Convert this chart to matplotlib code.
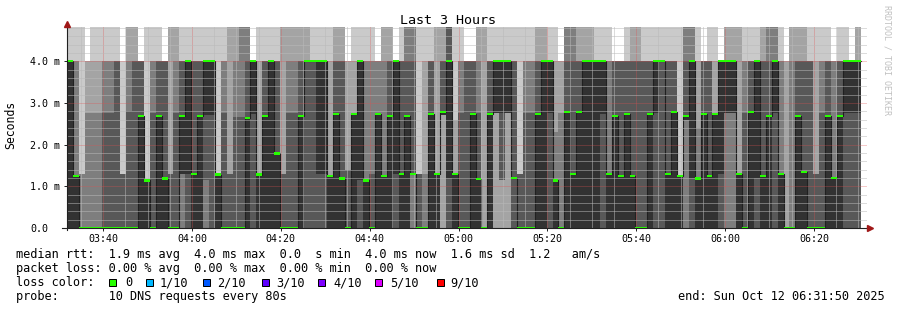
import datetime as dt
import numpy as np
import matplotlib
matplotlib.use("Agg")
import matplotlib.pyplot as plt
import matplotlib.dates as mdates
import matplotlib.transforms as mtransforms
from matplotlib.patches import Rectangle
from matplotlib.ticker import MultipleLocator

W, H = 897, 310
MONO = "DejaVu Sans Mono"

start = dt.datetime(2025, 10, 12, 3, 31, 50)
end = dt.datetime(2025, 10, 12, 6, 31, 50)
step_seconds = 80

# sorted rtt of the 10 DNS requests per 80s step, in ms (6.0 = above the graph)
pings_03h = [
    [0, 0, 0, 0, 0, 4, 4, 4, 4, 6],
    [0, 0, 0, 0, 0, 1.24, 1.24, 4, 4, 6],
    [0, 0, 0, 0, 0, 0, 0, 1.3, 1.3, 6],
    [0, 0, 0, 0, 0, 0, 0, 2.75, 4, 4],
    [0, 0, 0, 0, 0, 0, 0, 2.75, 4, 6],
    [0, 0, 0, 0, 0, 0, 0, 2.75, 4, 6],
    [0, 0, 0, 0, 0, 0, 2.75, 4, 4, 6],
    [0, 0, 0, 0, 0, 0, 2.75, 4, 4, 6],
    [0, 0, 0, 0, 0, 0, 4, 4, 4, 6],
    [0, 0, 0, 0, 0, 0, 1.3, 1.3, 1.3, 4],
    [0, 0, 0, 0, 0, 0, 2.8, 4, 6, 6],
    [0, 0, 0, 0, 0, 0, 4, 4, 6, 6],
    [0, 0, 0, 0, 0, 2.69, 4, 4, 4, 4],
    [0, 0, 0, 0, 0, 1.14, 1.14, 1.14, 1.14, 6],
    [0, 0, 0, 0, 0, 0, 2.75, 4, 4, 6],
    [0, 0, 0, 0, 0, 2.69, 4, 4, 4, 6],
    [0, 0, 0, 0, 0, 1.19, 4, 4, 4, 4],
    [0, 0, 0, 0, 0, 0, 1.3, 1.3, 6, 6],
    [0, 0, 0, 0, 0, 0, 2.75, 4, 6, 6],
    [0, 0, 0, 1.3, 1.3, 2.69, 4, 4, 4, 6],
    [0, 0, 0, 0, 1.29, 4, 4, 4, 4, 6],
    [0, 0, 0, 0, 0, 1.29, 4, 4, 4, 6],
]
pings_04h = [
    [0, 0, 0, 0, 0, 2.69, 4, 4, 4, 6],
    [0, 0, 0, 1.14, 2.7, 4, 4, 4, 4, 6],
    [0, 0, 0, 0, 2.7, 4, 4, 4, 4, 6],
    [0, 0, 0, 0, 0, 1.28, 1.28, 1.28, 1.28, 6],
    [0, 0, 0, 0, 0, 0, 2.75, 4, 4, 6],
    [0, 0, 0, 0, 0, 0, 1.3, 1.3, 6, 6],
    [0, 0, 0, 0, 0, 0, 2.65, 4, 6, 6],
    [0, 0, 0, 0, 0, 0, 2.65, 6, 6, 6],
    [0, 0, 0, 0, 0, 2.64, 4, 6, 6, 6],
    [0, 0, 0, 0, 2.74, 4, 4, 4, 4, 4],
    [0, 0, 0, 0, 0, 1.28, 1.28, 1.28, 4, 6],
    [0, 0, 0, 0, 0, 2.69, 4, 4, 4, 6],
    [0, 0, 0, 0, 0, 4, 4, 4, 4, 6],
    [0, 0, 0, 0, 0, 1.79, 4, 4, 4, 6],
    [0, 0, 0, 0, 0, 0, 1.3, 1.3, 6, 6],
    [0, 0, 0, 0, 0, 0, 2.75, 4, 6, 6],
    [0, 0, 0, 0, 0, 0, 2.75, 4, 6, 6],
    [0, 0, 0, 0, 0, 2.69, 4, 4, 6, 6],
    [0, 0, 0, 0, 4, 4, 4, 4, 6, 6],
    [0, 0, 0, 0, 4, 4, 4, 4, 4, 6],
    [0, 0, 0, 0, 1.3, 4, 4, 4, 4, 6],
    [0, 0, 0, 0, 1.3, 4, 4, 4, 4, 6],
    [0, 0, 0, 0, 0, 1.24, 1.24, 1.24, 4, 6],
    [0, 0, 0, 0, 0, 2.74, 4, 4, 6, 6],
    [0, 0, 0, 0, 0, 1.19, 4, 4, 6, 6],
    [0, 0, 0, 0, 0, 0, 1.4, 1.4, 4, 4],
    [0, 0, 0, 0, 0, 2.74, 2.74, 2.74, 4, 6],
    [0, 0, 0, 0, 1.14, 4, 4, 4, 4, 6],
    [0, 0, 0, 0, 0, 1.14, 1.14, 4, 4, 6],
    [0, 0, 0, 0, 0, 0, 1.3, 4, 4, 6],
    [0, 0, 0, 0, 0, 2.74, 2.74, 4, 4, 4],
    [0, 0, 0, 0, 0, 1.24, 1.24, 4, 6, 6],
    [0, 0, 0, 0, 0, 2.69, 4, 4, 6, 6],
    [0, 0, 0, 0, 1.3, 4, 4, 4, 4, 4],
    [0, 0, 0, 0, 0, 1.29, 4, 4, 4, 6],
    [0, 0, 0, 0, 0, 2.69, 4, 6, 6, 6],
    [0, 0, 0, 1.29, 1.29, 1.29, 4, 6, 6, 6],
    [0, 0, 0, 0, 0, 0, 1.3, 1.3, 1.3, 6],
    [0, 0, 0, 0, 0, 0, 0, 1.3, 4, 6],
    [0, 0, 0, 0, 0, 2.74, 4, 4, 4, 6],
    [0, 0, 0, 0, 0, 1.29, 1.29, 1.29, 6, 6],
    [0, 0, 2.7, 2.7, 2.7, 2.78, 4, 4, 6, 6],
    [0, 0, 0, 0, 1.2, 4, 6, 6, 6, 6],
    [0, 0, 0, 0, 0, 1.29, 1.29, 1.29, 2.6, 6],
    [0, 0, 0, 0, 0, 0, 2.75, 4, 4, 6],
]
pings_05h = [
    [0, 0, 0, 0, 0, 0, 4, 4, 4, 4],
    [0, 0, 0, 0, 0, 2.74, 4, 4, 4, 4],
    [0, 0, 0, 0, 0, 1.18, 2.75, 4, 6, 6],
    [0, 0, 0, 0, 0, 0, 0, 0, 6, 6],
    [0, 0, 0, 0, 0, 2.74, 4, 4, 4, 6],
    [0, 0, 2.75, 2.75, 2.75, 4, 4, 4, 4, 6],
    [0, 0, 1.14, 1.14, 2.75, 4, 4, 4, 4, 6],
    [0, 0, 2.75, 2.75, 2.75, 4, 4, 4, 4, 6],
    [0, 0, 0, 0, 1.2, 1.2, 4, 4, 4, 6],
    [0, 0, 0, 0, 0, 0, 1.3, 1.3, 1.3, 6],
    [0, 0, 0, 0, 0, 0, 2.75, 4, 4, 6],
    [0, 0, 0, 0, 0, 0, 2.75, 4, 4, 6],
    [0, 0, 0, 0, 0, 2.74, 4, 4, 6, 6],
    [0, 0, 0, 0, 0, 4, 4, 4, 6, 6],
    [0, 0, 0, 0, 2.75, 4, 4, 4, 4, 6],
    [0, 0, 0, 0, 0, 1.14, 1.14, 2.3, 4, 6],
    [0, 0, 0, 0, 0, 0, 0, 2.75, 4, 4],
    [0, 0, 0, 0, 0, 2.78, 4, 6, 6, 6],
    [0, 0, 0, 0, 0, 1.29, 4, 6, 6, 6],
    [0, 0, 0, 0, 0, 2.78, 4, 4, 6, 6],
    [0, 0, 0, 0, 0, 4, 4, 4, 6, 6],
    [0, 0, 0, 0, 0, 4, 4, 4, 6, 6],
    [0, 0, 0, 0, 0, 4, 4, 4, 4, 6],
    [0, 0, 0, 0, 2.74, 4, 4, 4, 4, 6],
    [0, 0, 0, 0, 0, 1.29, 1.29, 4, 4, 6],
    [0, 0, 0, 0, 0, 2.69, 4, 4, 4, 4],
    [0, 0, 0, 0, 0, 1.24, 4, 4, 4, 4],
    [0, 0, 0, 0, 0, 2.74, 4, 4, 4, 6],
    [0, 0, 0, 0, 0, 1.24, 4, 4, 6, 6],
    [0, 0, 0, 0, 0, 0, 4, 4, 6, 6],
    [0, 0, 0, 0, 0, 0, 4, 4, 4, 6],
    [0, 0, 0, 0, 0, 2.74, 4, 4, 4, 6],
    [0, 0, 0, 0, 2.75, 4, 4, 4, 4, 6],
    [0, 0, 0, 0, 4, 4, 4, 4, 4, 6],
    [0, 0, 0, 0, 0, 1.29, 4, 4, 4, 6],
    [0, 0, 0, 0, 0, 2.78, 4, 4, 4, 6],
    [0, 0, 0, 0, 0, 1.24, 1.24, 1.24, 1.24, 6],
    [0, 0, 0, 2.6, 2.6, 2.69, 4, 6, 6, 6],
    [0, 0, 0, 0, 1.19, 4, 4, 6, 6, 6],
    [0, 0, 0, 0, 0, 1.19, 1.19, 2.4, 4, 6],
    [0, 0, 0, 0, 0, 2.74, 4, 4, 4, 4],
    [0, 0, 0, 0, 0, 1.24, 4, 4, 4, 6],
    [0, 0, 0, 0, 0, 2.74, 2.74, 2.74, 4, 6],
    [0, 0, 0, 0, 1.29, 4, 4, 4, 4, 4],
    [0, 0, 0, 2.75, 2.75, 4, 4, 4, 6, 6],
]
pings_06h = [
    [0, 0, 0, 2.75, 2.75, 4, 4, 4, 6, 6],
    [0, 0, 0, 0, 0, 1.29, 1.29, 1.29, 6, 6],
    [0, 0, 0, 0, 0, 0, 2.75, 4, 4, 6],
    [0, 0, 0, 0, 0, 2.78, 4, 4, 4, 6],
    [0, 0, 0, 0, 1.2, 4, 4, 4, 4, 6],
    [0, 0, 0, 0, 0, 1.24, 4, 4, 6, 6],
    [0, 0, 0, 0, 0, 2.69, 4, 6, 6, 6],
    [0, 0, 0, 0, 2.75, 4, 4, 6, 6, 6],
    [0, 0, 0, 0, 0, 1.29, 1.29, 4, 4, 6],
    [0, 0, 0, 0, 0, 0, 0, 0, 4, 4],
    [0, 0, 0, 0, 0, 0, 0, 4, 6, 6],
    [0, 0, 0, 0, 0, 2.69, 4, 4, 6, 6],
    [0, 0, 0, 0, 0, 1.35, 4, 4, 6, 6],
    [0, 0, 0, 0, 0, 0, 4, 4, 4, 6],
    [0, 0, 0, 0, 0, 0, 1.3, 1.3, 4, 6],
    [0, 0, 0, 0, 0, 0, 2.75, 4, 4, 6],
    [0, 0, 0, 0, 0, 2.69, 4, 4, 4, 6],
    [0, 0, 0, 0, 0, 1.2, 1.2, 4, 4, 4],
    [0, 0, 0, 0, 0, 2.69, 4, 4, 4, 6],
    [0, 0, 0, 0, 2.75, 4, 4, 4, 4, 6],
    [0, 0, 0, 0, 2.75, 4, 4, 4, 4, 4],
    [0, 0, 0, 0, 2.75, 4, 4, 4, 6, 6],
]

# median rtt per step, ms
median_ms = [
    4.0, 1.24, 0, 0, 0, 0, 0, 0, 0, 0,
    0, 0, 2.69, 1.14, 0, 2.69, 1.19, 0, 0, 2.69,
    4.0, 1.29, 2.69, 4.0, 4.0, 1.28, 0, 0, 0, 0,
    2.64, 4.0, 1.28, 2.69, 4.0, 1.79, 0, 0, 0, 2.69,
    4.0, 4.0, 4.0, 4.0, 1.24, 2.74, 1.19, 0, 2.74, 4.0,
    1.14, 0, 2.74, 1.24, 2.69, 4.0, 1.29, 2.69, 1.29, 0,
    0, 2.74, 1.29, 2.78, 4.0, 1.29, 0, 0, 2.74, 1.18,
    0, 2.74, 4.0, 4.0, 4.0, 1.2, 0, 0, 0, 2.74,
    4.0, 4.0, 1.14, 0, 2.78, 1.29, 2.78, 4.0, 4.0, 4.0,
    4.0, 1.29, 2.69, 1.24, 2.74, 1.24, 0, 0, 2.74, 4.0,
    4.0, 1.29, 2.78, 1.24, 2.69, 4.0, 1.19, 2.74, 1.24, 2.74,
    4.0, 4.0, 4.0, 1.29, 0, 2.78, 4.0, 1.24, 2.69, 4.0,
    1.29, 0, 0, 2.69, 1.35, 0, 0, 0, 2.69, 1.2,
    2.69, 4.0, 4.0, 4.0,
]

smoke_colors = ["#cacaca", "#a4a4a4", "#7e7e7e", "#585858", "#323232"]
loss_labels = ["0", "1/10", "2/10", "3/10", "4/10", "5/10", "9/10"]
loss_colors = ["#26ff00", "#00b8ff", "#0059ff", "#5e00ff", "#7e00ff", "#dd00ff", "#ff0000"]

stats_line = "median rtt:  1.9 ms avg  4.0 ms max  0.0  s min  4.0 ms now  1.6 ms sd  1.2   am/s"
loss_line = "packet loss: 0.00 % avg  0.00 % max  0.00 % min  0.00 % now"
probe_line = "probe:       10 DNS requests every 80s"
end_line = "end: Sun Oct 12 06:31:50 2025"


def fx(px):
    return px / W


def fy(px):
    return 1 - px / H


def main():
    pings = np.array(pings_03h + pings_04h + pings_05h + pings_06h, dtype=float)
    median = np.array(median_ms, dtype=float)
    n = len(median)
    edges = [start + dt.timedelta(seconds=step_seconds * i) for i in range(n + 1)]
    x = mdates.date2num(edges)

    fig = plt.figure(figsize=(W / 100, H / 100), dpi=100)
    fig.patch.set_facecolor("white")
    ax = fig.add_axes([fx(66.8), fy(228), 799.7 / W, 201 / H])

    # smoke: band i spans ping i .. ping 11-i, darker towards the middle
    for i, color in enumerate(smoke_colors):
        lo = np.append(pings[:, i], pings[-1, i])
        hi = np.append(pings[:, 9 - i], pings[-1, 9 - i])
        ax.fill_between(x, lo, hi, step="post", color=color, lw=0, zorder=1)

    ax.step(x, np.append(median, median[-1]), where="post",
            color="#202020", lw=0.8, zorder=2)
    sw = 0.028
    ax.bar(x[:-1], 2 * sw, bottom=median - sw, width=np.diff(x), align="edge",
           color=loss_colors[0], lw=0, zorder=4)

    ax.set_xlim(mdates.date2num(start), mdates.date2num(end))
    ax.set_ylim(0, 4.82)

    ax.xaxis.set_major_locator(mdates.MinuteLocator(byminute=[0, 20, 40]))
    ax.xaxis.set_minor_locator(mdates.MinuteLocator(byminute=range(0, 60, 5)))
    ax.xaxis.set_major_formatter(mdates.DateFormatter("%H:%M"))
    ax.yaxis.set_major_locator(MultipleLocator(1))
    ax.yaxis.set_minor_locator(MultipleLocator(0.2))
    ax.set_axisbelow(False)
    ax.grid(which="minor", color="#bababa", lw=0.72, ls=(0, (1, 1)))
    ax.grid(which="major", color="#e05050", alpha=0.6, lw=0.72, ls=(0, (1, 1)))

    for s in ax.spines.values():
        s.set_visible(False)
    ax.tick_params(axis="x", which="major", length=2, width=0.7, pad=2.2,
                   labelsize=7.2, color="#202020")
    ax.tick_params(axis="x", which="minor", length=0)
    ax.tick_params(axis="y", which="major", length=2.5, width=0.7, labelleft=False,
                   color="#202020")
    ax.tick_params(axis="y", which="minor", length=0)
    for lab in ax.get_xticklabels():
        lab.set_family(MONO)

    trans = mtransforms.blended_transform_factory(fig.transFigure, ax.transData)
    for v in range(0, 5):
        label = "0.0" if v == 0 else f"{v:.1f} m"
        ax.text(fx(30), v, label, transform=trans, ha="left", va="center_baseline",
                fontsize=7.2, family=MONO)

    # axes with rrdtool style arrows
    ax.plot([-0.006, 1.004], [0, 0], transform=ax.transAxes, color="#202020",
            lw=0.8, clip_on=False, zorder=5)
    ax.plot([0, 0], [-0.012, 1.01], transform=ax.transAxes, color="#202020",
            lw=0.8, clip_on=False, zorder=5)
    ax.plot([1.005], [0], marker=">", ms=4, color="#a01818", transform=ax.transAxes,
            clip_on=False, zorder=6)
    ax.plot([0], [1.015], marker="^", ms=4, color="#a01818", transform=ax.transAxes,
            clip_on=False, zorder=6)

    fig.text(fx(448), fy(24), "Last 3 Hours", ha="center", va="baseline",
             fontsize=9.6, family=MONO)
    fig.text(fx(11), fy(125), "Seconds", rotation=90, ha="center", va="center",
             fontsize=8.3, family=MONO)
    fig.text(fx(886.5), fy(5), "RRDTOOL / TOBI OETIKER", rotation=270,
             ha="center", va="top", fontsize=6, color="#c0c0c0", family=MONO)

    fs = 8.54
    fig.text(fx(16), fy(258), stats_line, fontsize=fs, family=MONO, va="baseline")
    fig.text(fx(16), fy(272), loss_line, fontsize=fs, family=MONO, va="baseline")
    fig.text(fx(16), fy(286), "loss color:", fontsize=fs, family=MONO, va="baseline")
    fig.text(fx(16), fy(300), probe_line, fontsize=fs, family=MONO, va="baseline")
    fig.text(fx(678), fy(300), end_line, fontsize=fs, family=MONO, va="baseline")

    box_x = [109, 146, 203, 262, 318, 375, 437]
    text_x = [125, 160, 217, 276, 333, 390, 450]
    for bx, tx, lab, col in zip(box_x, text_x, loss_labels, loss_colors):
        fig.add_artist(Rectangle((fx(bx), fy(285.5)), 7 / W, 7 / H,
                                 transform=fig.transFigure, facecolor=col,
                                 edgecolor="black", lw=0.72))
        fig.text(fx(tx), fy(286), lab, fontsize=fs, family=MONO, va="baseline")

    fig.savefig("out.png", dpi=100)


if __name__ == "__main__":
    main()
